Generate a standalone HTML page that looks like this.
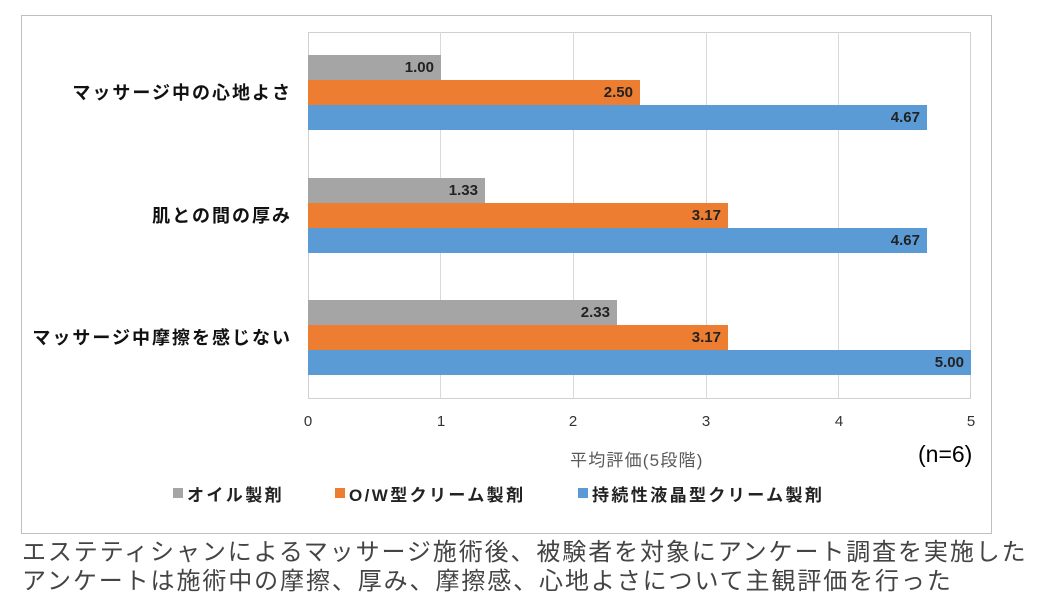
<!DOCTYPE html><html><head><meta charset="utf-8"><style>
body{margin:0;width:1038px;height:604px;background:#fff;position:relative;overflow:hidden;font-family:"Liberation Sans","Noto Sans CJK JP",sans-serif}
.a{position:absolute}
.g{position:absolute;top:32px;height:367px;width:1px;background:#d9d9d9}
.bar{position:absolute;left:308px;height:25px}
.v{position:absolute;font-weight:bold;font-size:15px;color:#222;text-align:right;line-height:25px}
.cat{position:absolute;right:746px;font-weight:bold;font-size:18px;letter-spacing:2px;color:#111;white-space:nowrap}
.t{position:absolute;top:413px;font-size:15px;color:#333;width:20px;margin-left:-10px;text-align:center}
.lg{position:absolute;top:481px;font-size:17px;letter-spacing:2.4px;font-weight:bold;color:#222;white-space:nowrap}
.sq{position:absolute;top:488px;width:10px;height:10px}
</style></head><body>
<div class="a" style="left:21px;top:15px;width:969px;height:517px;border:1px solid #bfbfbf"></div>
<div class="a" style="left:308px;top:32px;width:663px;height:367px;border:1px solid #d0d0d0;box-sizing:border-box"></div>
<div class="g" style="left:440px"></div><div class="g" style="left:573px"></div><div class="g" style="left:706px"></div><div class="g" style="left:838px"></div>
<div class="bar" style="top:55px;width:133px;background:#a5a5a5"></div>
<div class="bar" style="top:80px;width:332px;background:#ed7d31"></div>
<div class="bar" style="top:105px;width:619px;background:#5b9bd5"></div>
<div class="bar" style="top:178px;width:177px;background:#a5a5a5"></div>
<div class="bar" style="top:203px;width:420px;background:#ed7d31"></div>
<div class="bar" style="top:228px;width:619px;background:#5b9bd5"></div>
<div class="bar" style="top:300px;width:309px;background:#a5a5a5"></div>
<div class="bar" style="top:325px;width:420px;background:#ed7d31"></div>
<div class="bar" style="top:350px;width:663px;background:#5b9bd5"></div>
<div class="v" style="left:308px;width:126px;top:55px">1.00</div>
<div class="v" style="left:308px;width:325px;top:80px">2.50</div>
<div class="v" style="left:308px;width:612px;top:105px">4.67</div>
<div class="v" style="left:308px;width:170px;top:178px">1.33</div>
<div class="v" style="left:308px;width:413px;top:203px">3.17</div>
<div class="v" style="left:308px;width:612px;top:228px">4.67</div>
<div class="v" style="left:308px;width:302px;top:300px">2.33</div>
<div class="v" style="left:308px;width:413px;top:325px">3.17</div>
<div class="v" style="left:308px;width:656px;top:350px">5.00</div>
<div class="cat" style="top:79px">マッサージ中の心地よさ</div>
<div class="cat" style="top:202px">肌との間の厚み</div>
<div class="cat" style="top:324px">マッサージ中摩擦を感じない</div>
<div class="t" style="left:308px">0</div><div class="t" style="left:441px">1</div><div class="t" style="left:573px">2</div><div class="t" style="left:706px">3</div><div class="t" style="left:839px">4</div><div class="t" style="left:971px">5</div>
<div class="a" style="left:570px;top:446px;font-size:17px;letter-spacing:1.2px;color:#595959">平均評価(5段階)</div>
<div class="a" style="left:918px;top:441px;font-size:23px;color:#000">(n=6)</div>
<div class="sq" style="left:173px;background:#a5a5a5"></div><div class="lg" style="left:187px">オイル製剤</div>
<div class="sq" style="left:335px;background:#ed7d31"></div><div class="lg" style="left:349px">O/W型クリーム製剤</div>
<div class="sq" style="left:578px;background:#5b9bd5"></div><div class="lg" style="left:592px">持続性液晶型クリーム製剤</div>
<div class="a" style="left:22px;top:538px;font-size:24px;letter-spacing:1.9px;color:#444;line-height:29px;white-space:nowrap">エステティシャンによるマッサージ施術後、被験者を対象にアンケート調査を実施した<br>アンケートは施術中の摩擦、厚み、摩擦感、心地よさについて主観評価を行った</div>
</body></html>
